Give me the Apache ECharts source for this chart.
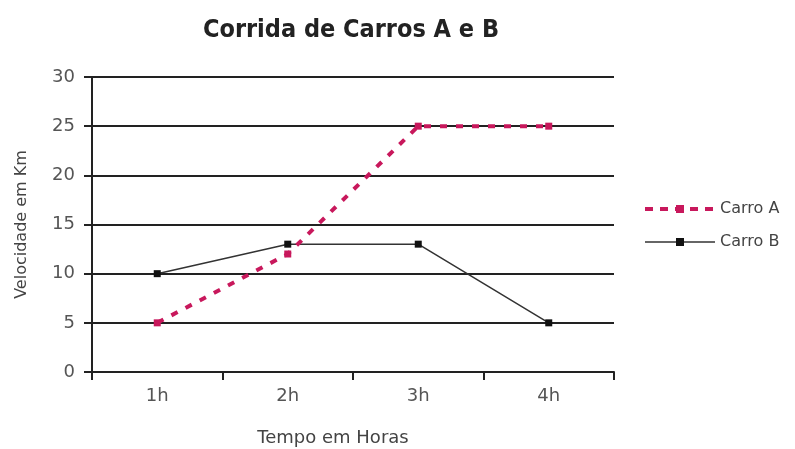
<!DOCTYPE html>
<html><head><meta charset="utf-8">
<script src="https://cdn.jsdelivr.net/npm/echarts@6/dist/echarts.min.js"></script>
<style>html,body{margin:0;padding:0;background:#fff}#c{width:795px;height:449px}</style>
</head><body><div id="c"></div>
<script>
var categories = ['1h', '2h', '3h', '4h'];
var carroA = [5, 12, 25, 25];
var carroB = [10, 13, 13, 5];
var seriesNames = ['Carro A', 'Carro B'];

var COND = '"DejaVu Sans Condensed", "DejaVu Sans", sans-serif';
var SANS = '"DejaVu Sans", sans-serif';
var chart = echarts.init(document.getElementById('c'), null, {renderer: 'canvas'});
chart.setOption({
  backgroundColor: '#fff',
  animation: false,
  title: {
    text: 'Corrida de Carros A e B',
    left: 346, top: 13, textAlign: 'center',
    textStyle: {fontFamily: COND, fontWeight: 'bold', fontSize: 25, color: '#222'}
  },
  legend: {
    orient: 'vertical', left: 643, top: 201, itemGap: 17,
    itemWidth: 70, itemHeight: 10, padding: 0,
    textStyle: {fontFamily: SANS, fontSize: 16, color: '#444'},
    data: [
      {name: seriesNames[0], lineStyle: {width: 4, type: [8, 7]}},
      {name: seriesNames[1], lineStyle: {width: 1.5}}
    ]
  },
  grid: {left: 92, right: 181, top: 77, bottom: 77, outerBoundsMode: 'none', containLabel: false},
  xAxis: {
    type: 'category', data: categories, boundaryGap: true,
    name: 'Tempo em Horas', nameLocation: 'middle', nameGap: 57,
    nameTextStyle: {fontFamily: SANS, fontSize: 18, color: '#444', padding: [0, 40, 0, 0]},
    axisLine: {lineStyle: {color: '#222', width: 2}},
    axisTick: {show: true, length: 8, lineStyle: {color: '#222', width: 2}},
    axisLabel: {fontFamily: SANS, fontSize: 18, color: '#555', margin: 15}
  },
  yAxis: {
    type: 'value', min: 0, max: 30, interval: 5,
    name: 'Velocidade em Km', nameLocation: 'middle', nameGap: 62, nameRotate: 90,
    nameTextStyle: {fontFamily: SANS, fontSize: 16, color: '#444'},
    axisLine: {show: true, lineStyle: {color: '#222', width: 2}},
    axisTick: {show: true, length: 8, lineStyle: {color: '#222', width: 2}},
    axisLabel: {fontFamily: SANS, fontSize: 18, color: '#555', margin: 17},
    splitLine: {lineStyle: {color: '#222', width: 2}}
  },
  series: [
    {
      name: seriesNames[0], type: 'line', data: carroA,
      symbol: 'rect', symbolSize: 7,
      itemStyle: {color: '#c8185c'},
      lineStyle: {color: '#c8185c', width: 4, type: [7, 9]},
      z: 3
    },
    {
      name: seriesNames[1], type: 'line', data: carroB,
      symbol: 'rect', symbolSize: 7,
      itemStyle: {color: '#111'},
      lineStyle: {color: '#333', width: 1.5, type: 'solid'},
      z: 2
    }
  ]
});
</script></body></html>
